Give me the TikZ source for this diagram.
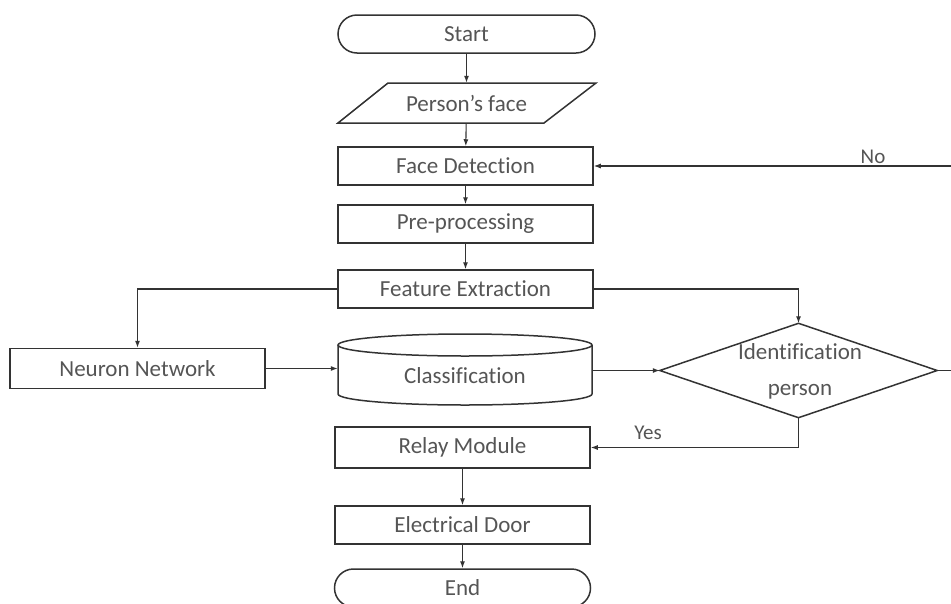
\documentclass[tikz,border=0pt]{standalone}
\usepackage{fontspec}
\setmainfont[Ligatures=NoCommon]{Carlito}
\usetikzlibrary{arrows.meta,calc}
\definecolor{ink}{HTML}{333333}
\definecolor{txt}{HTML}{555555}
\tikzset{
  every node/.style={font=\fontsize{23}{26}\selectfont, text=txt},
  boxnode/.style={draw=ink, line width=1.5pt, minimum width=255pt, minimum height=38pt, inner sep=0pt},
  termnode/.style={boxnode, rounded corners=19pt},
  ghost/.style={inner sep=0pt},
  outline/.style={draw=ink, line width=1.5pt},
  flow/.style={draw=ink, line width=1.1pt, -{Latex[length=7pt,width=5pt]}},
  lbl/.style={font=\fontsize{21}{24}\selectfont}
}
\begin{document}
\begin{tikzpicture}[x=1pt,y=-1pt]
\useasboundingbox (0,0) rectangle (951,603);

% terminals and process steps
\node[termnode, minimum width=257pt] (start) at (466.5,34) {Start};
\node[ghost, minimum width=207pt, minimum height=40pt] (face) at (466.5,103) {Person’s face};
\draw[outline] (388,83) -- (596,83) -- (544,123) -- (338,123) -- cycle;
\node[boxnode] (detect) at (465.5,166) {Face Detection};
\node[boxnode] (pre) at (465.5,224) {Pre-processing};
\node[boxnode] (feat) at (465.5,289) {Feature Extraction};
\node[boxnode, minimum height=40pt] (nn) at (137.5,368.5) {Neuron Network};

% classification store (cylinder)
\node[ghost, minimum width=254pt, minimum height=60pt] (cls) at (465,368.5) {};
\node[ghost] (clstext) at (465,376) {Classification};
\draw[outline] (465,345) ellipse [x radius=127, y radius=11];
\draw[outline] (338,345) -- (338,394) arc (180:0:127 and 11) -- (592,345);

% decision
\node[ghost, minimum width=277pt, minimum height=94pt] (dec) at (798.5,370.5) {};
\draw[outline] (dec.north) -- (dec.east) -- (dec.south) -- (dec.west) -- cycle;
\node[ghost] (dectop) at (800,352) {Identification};
\node[ghost] (decbot) at (800,392) {person};

\node[boxnode, minimum height=41pt] (relay) at (462.5,447.5) {Relay Module};
\node[boxnode] (door) at (462.5,525) {Electrical Door};
\node[termnode, minimum width=256pt] (end) at (462.5,588) {End};

% main flow
\draw[flow] (start) -- (face);
\draw[flow] (face) -- (detect);
\draw[flow] (detect) -- (pre);
\draw[flow] (pre) -- (feat);
\draw[flow] (feat.west) -| (nn.north);
\draw[flow] (feat.east) -| (dec.north);
\draw[flow] (nn.east) -- (cls.west);
\draw[flow] (cls.east |- dec.west) -- (dec.west);

% decision branches
\coordinate (loopA) at (962,370.5);
\coordinate (loopB) at (962,166);
\draw[flow] (dec.east) -- (loopA) -- (loopB) -- (detect.east);
\node[ghost, lbl] (nolbl) at (873,157) {No};
\draw[flow] (dec.south) |- (relay.east);
\node[ghost, lbl] (yeslbl) at (648,433) {Yes};

\draw[flow] (relay) -- (door);
\draw[flow] (door) -- (end);
\end{tikzpicture}
\end{document}
